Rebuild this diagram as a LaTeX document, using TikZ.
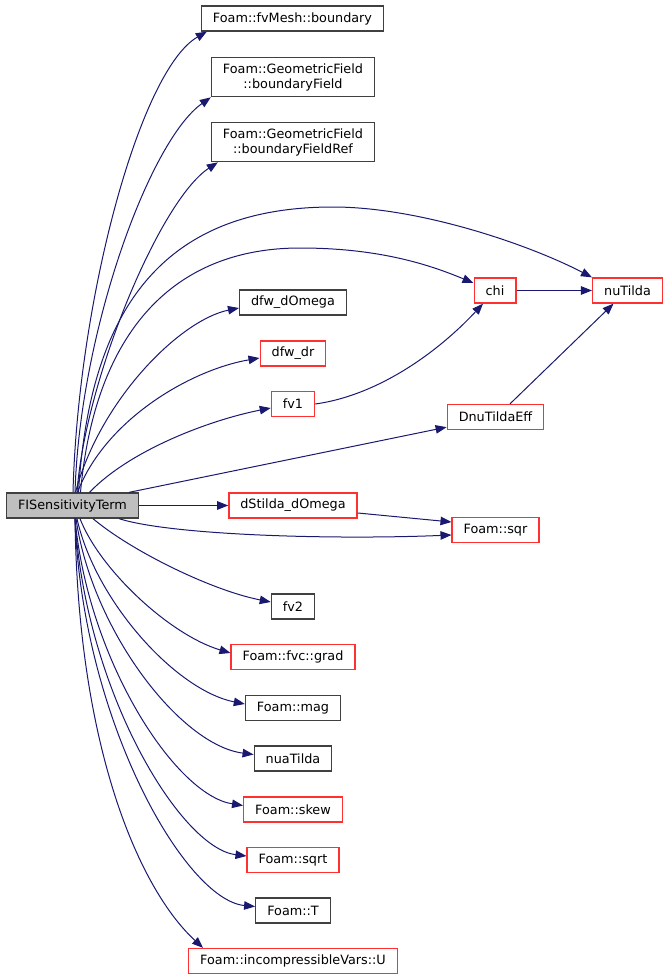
\documentclass[tikz,border=0pt]{standalone}
\usepackage{fontspec}
\setmainfont{DejaVu Sans}
\usetikzlibrary{arrows.meta}
\definecolor{callblue}{HTML}{191970}
\definecolor{boxgrey}{HTML}{404040}
\definecolor{boxred}{HTML}{FF3030}
\definecolor{mainfill}{HTML}{BFBFBF}

\begin{document}
\begin{tikzpicture}[x=1pt, y=-1pt,
    fn/.style={draw=boxgrey, line width=1.3pt, minimum height=25pt, inner xsep=11.5pt, inner ysep=6pt,
        align=center, font=\fontsize{12.8}{15}\selectfont},
    redfn/.style={fn, draw=boxred},
    callarrow/.style={draw=callblue, line width=1pt, -{Triangle[length=11pt,width=8.5pt]}}]
        \useasboundingbox (0,0) rectangle (668,980);

        % Draw the calling function
        \node[fn, fill=mainfill] (main) at (72.5,505.5) {FISensitivityTerm};

        % Draw the callees above
        \node[fn] (bnd) at (292.5,18.5) {Foam::fvMesh::boundary};
        \node[fn] (bfield) at (293,77) {Foam::GeometricField\\::boundaryField};
        \node[fn] (bfref) at (293,142) {Foam::GeometricField\\::boundaryFieldRef};
        \node[fn] (dfwdo) at (293,302.5) {dfw\_dOmega};
        \node[redfn] (dfwdr) at (293,353.5) {dfw\_dr};
        \node[redfn] (fvone) at (293,404) {fv1};
        \node[redfn] (dstil) at (293,505.5) {dStilda\_dOmega};
        \node[redfn] (chi) at (495,290.5) {chi};
        \node[redfn] (nut) at (627.5,290.5) {nuTilda};
        \node[redfn] (dnut) at (495.5,417) {DnuTildaEff};
        \node[redfn] (sqr) at (495.5,530) {Foam::sqr};

        % Draw the callees below
        \foreach \n/\y/\txt/\c in {fvtwo/606.5/fv2/boxgrey, grad/657/Foam::fvc::grad/boxred,
            mag/708/Foam::mag/boxgrey, nuat/758.5/nuaTilda/boxgrey, skew/809.5/Foam::skew/boxred,
            sqrt/860/Foam::sqrt/boxred, T/910.5/Foam::T/boxgrey, U/961/Foam::incompressibleVars::U/boxred} {
            \node[fn, draw=\c] (\n) at (293,\y) {\txt};
        }

        % Calls going up
        \draw[callarrow] ([xshift=0.5pt]main.north) .. controls (78,300) and (140,70) .. ([xshift=6pt]bnd.south west);
        \draw[callarrow] ([xshift=2.5pt]main.north) .. controls (80,330) and (150,140) .. (bfield.south west);
        \draw[callarrow] ([xshift=4.5pt]main.north) .. controls (85,380) and (160,200) .. ([xshift=7pt]bfref.south west);
        \draw[callarrow] ([xshift=6pt]main.north) .. controls (90,300) and (170,207) .. (333,207)
            .. controls (420,207) and (530,245) .. (nut.north west);
        \draw[callarrow] ([xshift=8pt]main.north) .. controls (95,330) and (175,248) .. (300,248)
            .. controls (380,248) and (430,265) .. ([yshift=7.5pt]chi.west);
        \draw[callarrow] ([xshift=3pt]main.north) .. controls (100,400) and (180,320) .. ([yshift=-5.5pt]dfwdo.west);
        \draw[callarrow] ([xshift=5pt]main.north) .. controls (105,420) and (190,370) .. ([yshift=-4.5pt]dfwdr.west);
        \draw[callarrow] ([xshift=17pt]main.north) .. controls (130,450) and (210,420) .. ([yshift=-4pt]fvone.west);
        \draw[callarrow] ([xshift=-10pt]main.north east) -- ([yshift=3pt]dnut.south west);
        \draw[callarrow] (main.east) -- (dstil.west);
        \draw[callarrow] ([xshift=-20pt]main.south east) .. controls (170,535) and (330,540) .. ([yshift=-5pt]sqr.west);

        % Calls going down
        \draw[callarrow] ([xshift=20.5pt]main.south) .. controls (130,550) and (210,590) .. ([yshift=4.5pt]fvtwo.west);
        \foreach \n/\sx/\ax/\ay/\bx/\by in {grad/7.5/100/570/170/635, mag/4.5/95/600/175/690,
            nuat/3.5/92/630/180/745, skew/2.5/88/660/175/795, sqrt/2.5/85/690/180/848,
            T/2.5/82/720/185/900} {
            \draw[callarrow] ([xshift=\sx pt]main.south) .. controls (\ax,\ay) and (\bx,\by) .. ([yshift=4pt]\n.west);
        }
        \draw[callarrow] ([xshift=2.5pt]main.south) .. controls (78,750) and (140,890) .. ([xshift=15pt]U.north west);

        % Calls between callees
        \draw[callarrow] (fvone.east) .. controls (380,395) and (440,350) .. ([xshift=-12pt]chi.south);
        \draw[callarrow] (chi.east) -- (nut.west);
        \draw[callarrow] ([xshift=14.5pt]dnut.north) -- ([xshift=-14pt]nut.south);
        \draw[callarrow] ([yshift=-7.5pt]dstil.east) -- ([yshift=8pt]sqr.west);
\end{tikzpicture}
\end{document}
